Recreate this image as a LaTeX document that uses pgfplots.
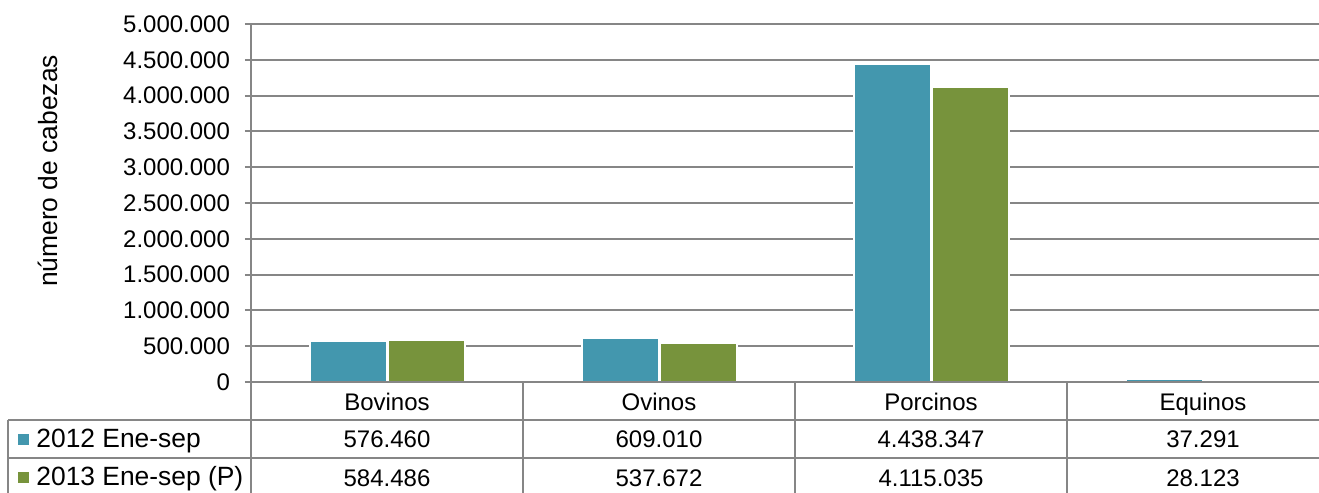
\documentclass[border=0pt]{standalone}
\usepackage{fontspec}
\setmainfont{Liberation Sans}
\usepackage{pgfplots}
\usepackage{pgfplotstable}
\pgfplotsset{compat=1.18}
\definecolor{serA}{RGB}{67,151,174}
\definecolor{serB}{RGB}{119,147,60}
\definecolor{gridgray}{RGB}{134,134,134}

% cabezas beneficiadas, ene-sep
\pgfplotstableread{
x a b
0 576460 584486
1 609010 537672
2 4438347 4115035
3 37291 28123
}\cabezas

\begin{document}
\begin{tikzpicture}[tab/.style={anchor=base, inner sep=0pt, font=\fontsize{12}{14}\selectfont}]
\begin{axis}[
    scale only axis, width=534pt, height=179pt,
    xmin=-0.5, xmax=3.42647, ymin=0, ymax=5000000,
    clip=false,
    ybar, bar width=0.283,
    axis line style={draw=none},
    ymajorgrids, grid style={gridgray, line width=1pt},
    ytick={0,500000,1000000,1500000,2000000,2500000,3000000,3500000,4000000,4500000,5000000},
    ytick pos=left, tick align=outside, major tick length=3pt,
    ytick style={gridgray, line width=1pt},
    xtick={0,1,2,3}, xticklabels={Bovinos,Ovinos,Porcinos,Equinos},
    xtick style={draw=none},
    xticklabel style={anchor=base, yshift=-11.5pt},
    scaled y ticks=false,
    /pgf/number format/fixed,
    /pgf/number format/1000 sep={.},
    /pgf/number format/assume math mode=true,
    tick label style={font=\fontsize{12}{14}\selectfont},
    yticklabel style={xshift=-4pt},
    ]
\addplot[fill=serA, draw=white, line width=1pt, bar shift=-0.143] table[x=x, y=a] {\cabezas};
\addplot[fill=serB, draw=white, line width=1pt, bar shift=0.144] table[x=x, y=b] {\cabezas};

% tabla de datos
\draw[gridgray, line width=1pt] (axis cs:-0.5,0) -- (axis cs:3.42647,0);
\draw[gridgray, line width=1pt] (axis cs:-0.5,5000000) -- (axis cs:-0.5,-1550279);
\draw[gridgray, line width=1pt] (axis cs:-1.3934,-530726) -- (axis cs:3.42647,-530726);
\draw[gridgray, line width=1pt] (axis cs:-1.3934,-1061453) -- (axis cs:3.42647,-1061453);
\draw[gridgray, line width=1pt] (axis cs:-1.3934,-530726) -- (axis cs:-1.3934,-1550279);
\draw[gridgray, line width=1pt] (axis cs:0.5,0) -- (axis cs:0.5,-1550279);
\draw[gridgray, line width=1pt] (axis cs:1.5,0) -- (axis cs:1.5,-1550279);
\draw[gridgray, line width=1pt] (axis cs:2.5,0) -- (axis cs:2.5,-1550279);

\fill[serA] (axis cs:-1.3382,-810000) ++(-2.75pt,-2.75pt) rectangle ++(5.5pt,5.5pt);
\fill[serB] (axis cs:-1.3382,-1340000) ++(-2.75pt,-2.75pt) rectangle ++(5.5pt,5.5pt);
\node[anchor=base west, inner sep=0pt, font=\fontsize{13.2}{15}\selectfont] at (axis cs:-1.2904,-921788) {2012 Ene-sep};
\node[anchor=base west, inner sep=0pt, font=\fontsize{13.2}{15}\selectfont] at (axis cs:-1.2904,-1452000) {2013 Ene-sep (P)};

\node[tab] at (axis cs:0,-921788) {576.460};
\node[tab] at (axis cs:1,-921788) {609.010};
\node[tab] at (axis cs:2,-921788) {4.438.347};
\node[tab] at (axis cs:3,-921788) {37.291};
\node[tab] at (axis cs:0,-1466480) {584.486};
\node[tab] at (axis cs:1,-1466480) {537.672};
\node[tab] at (axis cs:2,-1466480) {4.115.035};
\node[tab] at (axis cs:3,-1466480) {28.123};

\node[rotate=90, font=\fontsize{13.2}{15}\selectfont] at (axis cs:-1.2463,2946927) {número de cabezas};

\coordinate (bl) at (axis cs:-1.42279,-1550279);
\coordinate (tr) at (axis cs:3.42647,5335196);
\end{axis}
\pgfresetboundingbox
\path[use as bounding box] (bl) rectangle (tr);
\end{tikzpicture}
\end{document}
